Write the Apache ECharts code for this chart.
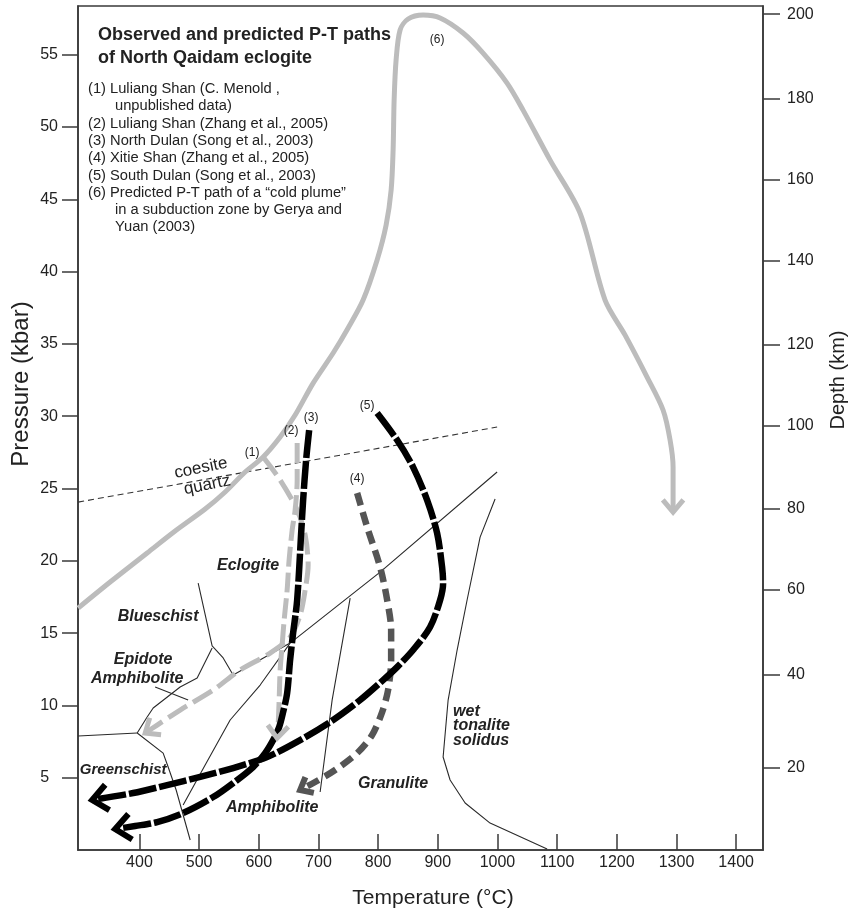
<!DOCTYPE html>
<html>
<head>
<meta charset="utf-8">
<script src="https://cdn.jsdelivr.net/npm/echarts@6/dist/echarts.min.js"></script>
<style>
html, body { margin: 0; padding: 0; background: #fff; }
#chart { width: 850px; height: 914px; }
</style>
</head>
<body>
<div id="chart"></div>
<script>
// ---- axis ticks ----
const tempTicks = [400, 500, 600, 700, 800, 900, 1000, 1100, 1200, 1300, 1400];
const pressureTicks = [5, 10, 15, 20, 25, 30, 35, 40, 45, 50, 55];
const depthLabels = [20, 40, 60, 80, 100, 120, 140, 160, 180, 200];
// pressure (kbar) at which each depth mark sits
const depthTickPressure = [5.69, 12.10, 18.03, 23.63, 29.32, 34.92, 40.73, 46.33, 51.95, 57.81];

// ---- P-T paths: [temperature °C, pressure kbar] ----
// (6) predicted "cold plume" path
const path6 = [[297.3,16.73],[350.9,18.53],[412.9,20.54],[459.8,22.06],[510.1,23.58],[543.6,24.76],[577.1,26.14],[607.3,27.18],[635.8,28.56],[660.9,30.08],[691.1,32.29],[724.6,34.37],[749.7,36.10],[774.8,38.03],[798.3,40.80],[813.4,43.22],[821.8,45.64],[825.1,48.41],[826.8,51.86],[830.1,54.63],[836.8,56.71],[850.2,57.47],[875.4,57.74],[903.9,57.54],[942.4,56.50],[975.9,55.11],[1016.1,53.04],[1042.9,51.17],[1088.2,47.71],[1138.4,44.05],[1180.3,38.03],[1213.9,35.61],[1250.7,32.71],[1277.5,30.43],[1289.3,28.35],[1294.3,26.48],[1294.3,24.20],[1294.3,23.37]];
// (1) Luliang Shan (Menold)
const path1 = [[607.3,27.18],[635.8,25.59],[664.3,23.51],[677.7,21.78],[682.7,19.71],[677.7,17.98],[669.3,16.25],[652.5,14.73],[619.0,13.62],[568.7,12.45],[523.5,11.06],[468.2,9.68],[429.7,8.64],[409.6,8.09]];
// (2) Luliang Shan (Zhang)
const path2 = [[664.3,28.14],[664.3,25.59],[660.9,23.51],[655.9,22.13],[650.8,20.05],[647.5,17.98],[642.5,15.90],[639.1,14.17],[635.8,12.45],[634.1,10.37],[632.4,8.64],[630.7,7.74]];
// (3) North Dulan
const path3 = [[684.4,29.04],[679.3,26.97],[674.3,24.20],[671.0,21.92],[664.3,17.29],[657.5,15.00],[652.5,13.14],[647.5,10.85],[640.8,9.54],[634.1,8.50],[624.0,7.60],[610.6,6.70],[590.5,5.74],[557.0,4.63],[523.5,3.66],[473.2,2.56],[429.7,1.93],[392.8,1.66],[359.3,1.45]];
// (4) Xitie Shan
const path4 = [[764.8,24.69],[781.6,22.33],[803.3,19.57],[815.1,17.29],[821.8,15.21],[821.8,13.14],[816.7,11.06],[806.7,9.54],[789.9,7.95],[764.8,6.70],[727.9,5.53],[694.4,4.70],[669.3,4.15]];
// (5) South Dulan
const path5 = [[798.3,30.22],[831.8,28.35],[858.6,26.48],[882.1,24.20],[898.8,21.92],[907.2,19.57],[908.9,18.46],[903.9,17.29],[887.1,15.42],[858.6,13.83],[831.8,12.65],[808.3,11.75],[769.8,10.37],[724.6,8.99],[669.3,7.60],[614.0,6.43],[557.0,5.67],[501.7,5.05],[446.4,4.49],[389.5,3.94],[320.8,3.46]];

// ---- facies boundaries ----
const coesiteQuartz = [[297.3,24.06],[999.4,29.25]];
const blueschistEdge = [[498.4,18.46],[521.8,14.11],[540.3,13.28],[557.0,12.10]];
const eclogiteEdge = [[557.0,12.10],[652.5,14.31],[803.3,19.22],[999.4,26.14]];
const epidoteEdge = [[521.8,13.97],[496.7,11.89],[468.2,11.27],[423.0,9.82],[412.9,9.20],[396.2,8.09]];
const greenschistTop = [[396.2,8.09],[297.3,7.88]];
const greenschistEdge = [[396.2,8.09],[439.7,6.70],[448.1,5.74],[461.5,4.15],[485.0,0.69]];
const amphiboliteEdge = [[473.2,3.11],[510.1,5.88],[552.0,8.99],[602.3,11.41],[652.5,14.31]];
const granuliteEdge = [[753.1,17.42],[722.9,10.37],[702.8,4.01]];
const tonaliteSolidus = [[996.0,24.27],[970.9,21.64],[949.1,17.29],[932.4,13.83],[917.3,10.37],[908.9,6.43],[920.6,4.84],[945.8,3.25],[987.6,1.86],[1083.2,0.07]];
const leader = [[426.3,11.27],[481.6,10.37]];

// ---- in-plot labels ----
const annoText = ['(1)', '(2)', '(3)', '(4)', '(5)', '(6)', 'coesite', 'quartz', 'Eclogite', 'Blueschist', 'Epidote', 'Amphibolite', 'Greenschist', 'Amphibolite', 'Granulite', 'wet\ntonalite\nsolidus'];
const annoT = [588.8, 654.2, 687.7, 764.8, 781.5, 898.8, 503.0, 513.5, 582.1, 431.3, 406.2, 396.2, 372.7, 622.4, 825.1, 925.6];
const annoP = [27.45, 28.97, 29.87, 25.65, 30.70, 56.01, 26.41, 25.24, 19.64, 16.11, 13.14, 11.82, 5.53, 2.90, 4.56, 8.57];
const annoKind = ['num', 'num', 'num', 'num', 'num', 'num', 'rot', 'rot', 'facies', 'facies', 'facies', 'facies', 'small', 'facies', 'facies', 'left'];

const titleLines = ['Observed and predicted P-T paths', 'of North Qaidam eclogite'];
const legendLines = [
  ['(1) Luliang Shan (C. Menold ,', 0],
  ['unpublished data)', 1],
  ['(2) Luliang Shan (Zhang et al., 2005)', 0],
  ['(3) North Dulan (Song et al., 2003)', 0],
  ['(4) Xitie Shan (Zhang et al., 2005)', 0],
  ['(5) South Dulan (Song et al., 2003)', 0],
  ['(6) Predicted P-T path of a \u201ccold plume\u201d', 0],
  ['in a subduction zone by Gerya and', 1],
  ['Yuan (2003)', 1]
];

const FONT = '"Liberation Sans", Arial, Helvetica, sans-serif';
const INK = '#222';
const AXIS = '#3a3a3a';
const LIGHT = '#bcbcbc';

function thin(data, extra) {
  return Object.assign({
    type: 'line', data: data, showSymbol: false, symbol: 'none', silent: true,
    lineStyle: { color: '#2a2a2a', width: 1.1 }, z: 2
  }, extra || {});
}
function thick(data, color, width, dash, z) {
  return {
    type: 'line', data: data, showSymbol: false, symbol: 'none', silent: true,
    smooth: 0.3, z: z,
    lineStyle: { color: color, width: width, type: dash, cap: 'butt', join: 'round' }
  };
}

// arrow heads at the end of each path
const arrowPaths = [path6, path1, path2, path3, path4, path5];
const arrowColor = [LIGHT, LIGHT, LIGHT, '#000', '#555', '#000'];
const arrowWidth = [5, 5, 5, 6, 6, 6];
const arrowLen = [16, 16, 16, 20, 14, 20];
const arrowData = arrowPaths.map((p, i) => {
  const a = p[p.length - 1], b = p[p.length - 2];
  return [a[0], a[1], b[0], b[1], i];
});

const series = [
  thin(coesiteQuartz, { lineStyle: { color: '#333', width: 1.1, type: [6, 4] } }),
  thin(blueschistEdge), thin(eclogiteEdge), thin(epidoteEdge), thin(greenschistTop),
  thin(greenschistEdge), thin(amphiboliteEdge), thin(granuliteEdge), thin(tonaliteSolidus),
  thin(leader),
  thick(path6, LIGHT, 5, 'solid', 3),
  thick(path1, LIGHT, 5, [22, 7], 4),
  thick(path2, LIGHT, 5, [20, 6], 4),
  thick(path4, '#555', 6.5, [13, 7], 5),
  thick(path5, '#000', 6.5, [28, 3], 6),
  thick(path3, '#000', 6.5, [28, 3], 6),
  {
    type: 'custom', silent: true, z: 7, data: arrowData,
    renderItem: function (params, api) {
      const i = api.value(4);
      const tip = api.coord([api.value(0), api.value(1)]);
      const prev = api.coord([api.value(2), api.value(3)]);
      let dx = tip[0] - prev[0], dy = tip[1] - prev[1];
      const len = Math.hypot(dx, dy) || 1;
      dx /= len; dy /= len;
      const ang = 40 * Math.PI / 180, L = arrowLen[i];
      const arm = s => [
        tip[0] - L * (dx * Math.cos(ang) - s * dy * Math.sin(ang)),
        tip[1] - L * (dy * Math.cos(ang) + s * dx * Math.sin(ang))
      ];
      return {
        type: 'polyline',
        shape: { points: [arm(1), tip, arm(-1)] },
        style: { stroke: arrowColor[i], lineWidth: arrowWidth[i], fill: null, lineJoin: 'miter', lineCap: 'butt' }
      };
    }
  },
  {
    type: 'custom', silent: true, z: 8,
    data: annoText.map((t, i) => [annoT[i], annoP[i], i]),
    renderItem: function (params, api) {
      const i = api.value(2);
      const pt = api.coord([api.value(0), api.value(1)]);
      const kind = annoKind[i];
      let font = 'bold italic 16px ' + FONT, align = 'center', rot = 0, lh = 16;
      if (kind === 'small') font = 'bold italic 15px ' + FONT;
      if (kind === 'num') font = '12px ' + FONT;
      if (kind === 'rot') { font = '17px ' + FONT; rot = 0.2; }
      if (kind === 'left') { align = 'left'; lh = 14.5; }
      return {
        type: 'text', x: pt[0], y: pt[1], rotation: rot,
        style: {
          text: annoText[i], font: font, fill: INK,
          align: align, verticalAlign: 'middle', textAlign: align, textVerticalAlign: 'middle',
          lineHeight: lh
        }
      };
    }
  }
];

const graphics = [];
titleLines.forEach((t, i) => graphics.push({
  type: 'text', x: 98, y: 35 + i * 23,
  style: { text: t, font: 'bold 18px ' + FONT, fill: INK, align: 'left', verticalAlign: 'middle', textAlign: 'left', textVerticalAlign: 'middle' }
}));
legendLines.forEach((l, i) => graphics.push({
  type: 'text', x: l[1] ? 115 : 88, y: 89 + i * 17.3,
  style: { text: l[0], font: '14.7px ' + FONT, fill: INK, align: 'left', verticalAlign: 'middle', textAlign: 'left', textVerticalAlign: 'middle' }
}));
graphics.push({
  type: 'text', x: 21, y: 384, rotation: Math.PI / 2,
  style: { text: 'Pressure (kbar)', font: '24px ' + FONT, fill: INK, align: 'center', verticalAlign: 'middle', textAlign: 'center', textVerticalAlign: 'middle' }
});
graphics.push({
  type: 'text', x: 838, y: 380, rotation: Math.PI / 2,
  style: { text: 'Depth (km)', font: '20px ' + FONT, fill: INK, align: 'center', verticalAlign: 'middle', textAlign: 'center', textVerticalAlign: 'middle' }
});
graphics.push({
  type: 'text', x: 433, y: 898,
  style: { text: 'Temperature (\u00b0C)', font: '21px ' + FONT, fill: INK, align: 'center', verticalAlign: 'middle', textAlign: 'center', textVerticalAlign: 'middle' }
});

const axisLine = { show: true, lineStyle: { color: AXIS, width: 1.6 } };
const tickStyle = { color: AXIS, width: 1.5 };
const labelStyle = { color: INK, fontSize: 16, fontFamily: FONT };

const option = {
  animation: false,
  backgroundColor: '#fff',
  grid: { left: 78, right: 87, top: 6, bottom: 64, show: true, borderColor: AXIS, borderWidth: 1.6, backgroundColor: 'transparent' },
  xAxis: {
    type: 'value', min: 297, max: 1445,
    axisLine: axisLine,
    axisTick: { show: true, inside: true, length: 16, customValues: tempTicks, lineStyle: tickStyle },
    axisLabel: Object.assign({ customValues: tempTicks, margin: 5, formatter: v => String(v) }, labelStyle),
    splitLine: { show: false }
  },
  yAxis: [
    {
      type: 'value', min: 0, max: 58.37, position: 'left',
      axisLine: axisLine,
      axisTick: { show: true, inside: false, length: 16, customValues: pressureTicks, lineStyle: tickStyle },
      axisLabel: Object.assign({ customValues: pressureTicks, margin: 20, formatter: v => (v === 5 ? '5  ' : String(v)) }, labelStyle),
      splitLine: { show: false }
    },
    {
      type: 'value', min: 0, max: 58.37, position: 'right',
      axisLine: axisLine,
      axisTick: { show: true, inside: false, length: 17, customValues: depthTickPressure, lineStyle: tickStyle },
      axisLabel: Object.assign({
        customValues: depthTickPressure, margin: 24,
        formatter: function (v) {
          let best = 0;
          depthTickPressure.forEach((p, i) => { if (Math.abs(p - v) < Math.abs(depthTickPressure[best] - v)) best = i; });
          return String(depthLabels[best]);
        }
      }, labelStyle),
      splitLine: { show: false }
    }
  ],
  graphic: graphics,
  series: series
};

const chart = echarts.init(document.getElementById('chart'), null, { renderer: 'canvas' });
chart.setOption(option);
</script>
</body>
</html>
